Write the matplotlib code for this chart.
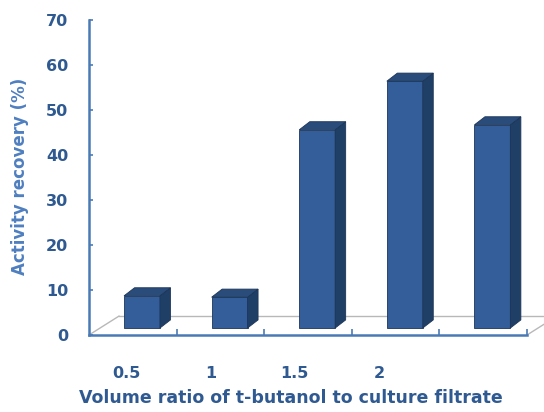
import numpy as np
import matplotlib
matplotlib.use("Agg")
import matplotlib.pyplot as plt
from matplotlib.patches import Polygon

# data
ratios = ["0.5", "1", "1.5", "2", ""]
recovery = [8.7, 8.4, 45.6, 56.4, 46.7]
y_ticks = [0, 10, 20, 30, 40, 50, 60, 70]

# colours
axis_blue = "#4a7ab5"
text_blue = "#2f5a91"
ylab_blue = "#4f7fc0"
front_col = "#335e99"
side_col = "#203f66"
top_col = "#2a4c7a"
edge_col = "#1c3558"
floor_col = "#b8b8b8"

plt.rcParams['font.family'] = ['DejaVu Sans']

fig = plt.figure(figsize=(5.44, 4.12), dpi=100)
ax = fig.add_axes([89 / 544, 77 / 412, 455 / 544, 315 / 412])

n = len(recovery)
x = np.arange(n)
ax.set_xlim(-0.5, -0.5 + 455 / 87.6)
ax.set_ylim(0, 70)

# pseudo 3d settings (category units / value units)
depth_x = 0.12
depth_y = 1.8
bar_w = 0.41
bar_off = 0.105
base = 1.55
floor_dx = 0.342
floor_dy = 4.2

# floor
ax.plot([-0.5, -0.5 + floor_dx], [0, floor_dy], color=floor_col, lw=1, zorder=1)
ax.plot([-0.5 + floor_dx, n], [floor_dy, floor_dy], color=floor_col, lw=1, zorder=1)
ax.plot([n - 0.5, n - 0.5 + floor_dx], [0, floor_dy], color=floor_col, lw=1, zorder=1)

# bars: front face plus side and top
ax.bar(x + bar_off, np.array(recovery) - base, bottom=base, width=bar_w,
       color=front_col, edgecolor=edge_col, linewidth=0.6, zorder=3)
for xi, v in zip(x + bar_off, recovery):
    l, r = xi - bar_w / 2, xi + bar_w / 2
    side = Polygon([(r, base), (r + depth_x, base + depth_y),
                    (r + depth_x, v + depth_y), (r, v)],
                   closed=True, facecolor=side_col, edgecolor=edge_col, lw=0.6, zorder=3)
    top = Polygon([(l, v), (l + depth_x, v + depth_y),
                   (r + depth_x, v + depth_y), (r, v)],
                  closed=True, facecolor=top_col, edgecolor=edge_col, lw=0.6, zorder=3)
    ax.add_patch(side)
    ax.add_patch(top)

# axes styling
for s in ["top", "right"]:
    ax.spines[s].set_visible(False)
ax.spines["left"].set_color(axis_blue)
ax.spines["bottom"].set_color(axis_blue)
ax.spines["left"].set_linewidth(1.8)
ax.spines["bottom"].set_linewidth(1.8)
ax.spines["bottom"].set_bounds(-0.5, n - 0.5)
ax.spines["left"].set_zorder(5)
ax.spines["bottom"].set_zorder(5)

ax.set_yticks(y_ticks)
ax.set_yticklabels([str(t) for t in y_ticks])
ax.tick_params(axis="y", direction="in", length=3, width=1.2, color=axis_blue,
               pad=15, labelsize=11.5, labelcolor=text_blue)

# labels sit a little left of the bars (perspective)
ax.set_xticks(-0.07 + 0.96 * x)
ax.set_xticklabels(ratios)
ax.tick_params(axis="x", length=0, pad=22, labelsize=11.5, labelcolor=text_blue)
ax.set_xticks(np.arange(0.5, n, 1.0), minor=True)
ax.tick_params(axis="x", which="minor", direction="in", length=4, width=1.2, color=axis_blue)

for lab in ax.get_xticklabels() + ax.get_yticklabels():
    lab.set_fontweight("bold")

fig.text(291 / 544, 1 - 398 / 412, "Volume ratio of t-butanol to culture filtrate",
         ha="center", va="center", fontsize=12.5, fontweight="bold", color=text_blue)
fig.text(20 / 544, 1 - 176 / 412, "Activity recovery (%)", rotation=90,
         ha="center", va="center", fontsize=12, fontweight="bold", color=ylab_blue)

fig.savefig("out.png", dpi=100)
